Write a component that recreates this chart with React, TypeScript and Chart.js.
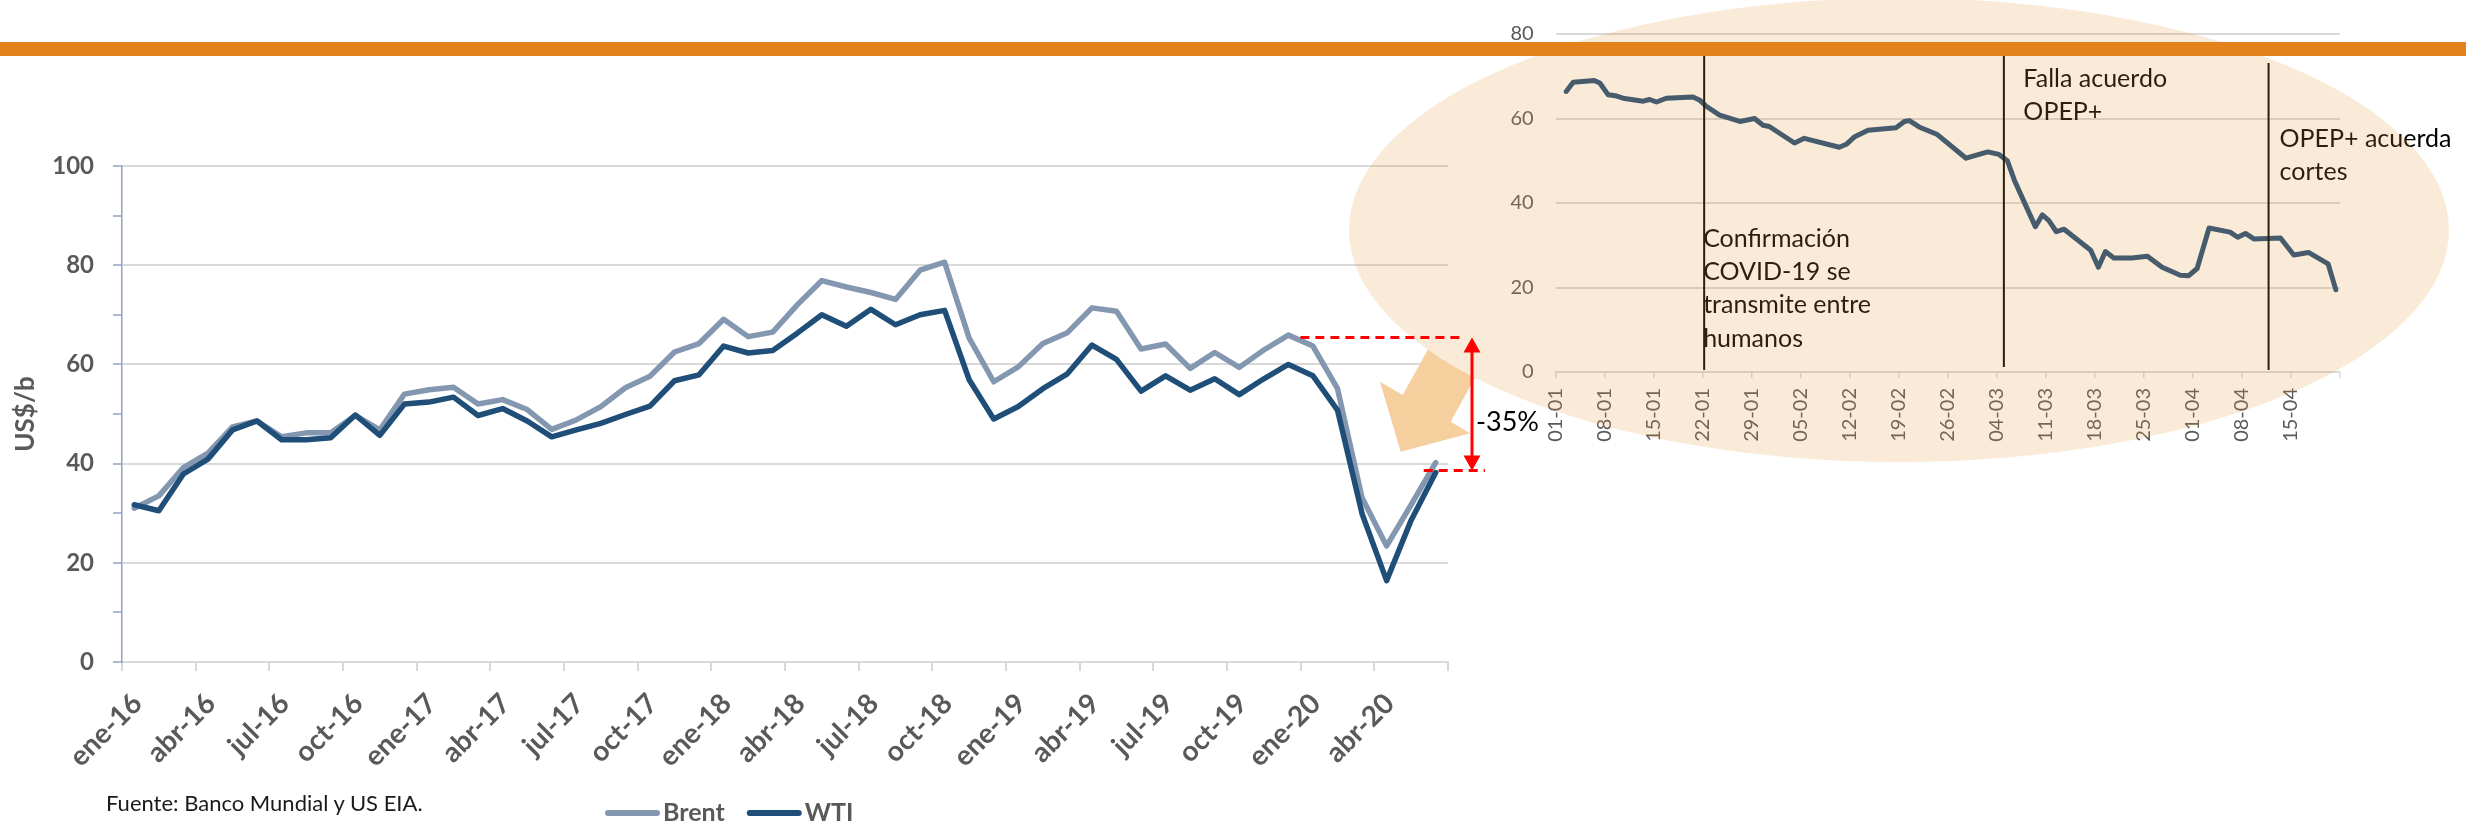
import React, { useEffect, useRef } from "react";
import { Chart, registerables } from "chart.js";

Chart.register(...registerables);
Chart.defaults.font.family = "Lato, 'Open Sans', sans-serif";

// ---------- main chart data (monthly, US$/b) ----------
const months = [
  "ene-16", "feb-16", "mar-16", "abr-16", "may-16", "jun-16", "jul-16", "ago-16", "sep-16", "oct-16", "nov-16", "dic-16",
  "ene-17", "feb-17", "mar-17", "abr-17", "may-17", "jun-17", "jul-17", "ago-17", "sep-17", "oct-17", "nov-17", "dic-17",
  "ene-18", "feb-18", "mar-18", "abr-18", "may-18", "jun-18", "jul-18", "ago-18", "sep-18", "oct-18", "nov-18", "dic-18",
  "ene-19", "feb-19", "mar-19", "abr-19", "may-19", "jun-19", "jul-19", "ago-19", "sep-19", "oct-19", "nov-19", "dic-19",
  "ene-20", "feb-20", "mar-20", "abr-20", "may-20", "jun-20",
];

const brent = [
  31.0, 33.5, 39.2, 42.1, 47.4, 48.6, 45.4, 46.2, 46.2, 49.7, 46.8, 54.0,
  54.9, 55.4, 52.0, 52.9, 50.9, 46.9, 48.8, 51.5, 55.3, 57.6, 62.5, 64.2,
  69.1, 65.6, 66.5, 72.0, 76.9, 75.6, 74.5, 73.1, 79.0, 80.6, 65.3, 56.5,
  59.5, 64.2, 66.4, 71.4, 70.7, 63.1, 64.1, 59.2, 62.4, 59.4, 62.9, 65.9,
  63.7, 55.1, 33.1, 23.4, 31.7, 40.2,
];

const wti = [
  31.7, 30.5, 37.9, 40.9, 46.8, 48.6, 44.8, 44.8, 45.2, 49.8, 45.7, 52.0,
  52.4, 53.4, 49.7, 51.1, 48.6, 45.4, 46.8, 48.1, 49.9, 51.6, 56.7, 57.9,
  63.7, 62.3, 62.8, 66.3, 70.0, 67.7, 71.1, 68.0, 70.0, 70.9, 56.9, 49.0,
  51.5, 55.1, 58.1, 63.9, 61.0, 54.6, 57.7, 54.8, 57.1, 53.9, 57.1, 60.0,
  57.7, 50.8, 29.9, 16.4, 28.6, 38.2,
];

const seriesNames = ["Brent", "WTI"];
const yAxisTitle = "US$/b";
const sourceText = "Fuente: Banco Mundial y US EIA.";

// drop annotation (peak and trough levels, US$/b)
const dropLevels = [65.4, 38.6];
const dropLabel = "-35%";

// ---------- inset chart data (daily 2020, day 0 = 01-01) ----------
const insetDays = [
  1.5, 2.5, 5.5, 6.3, 7.5, 8.5, 9.6, 12.5, 13.4, 14.4, 15.8, 19.6, 20.6, 21.5, 23.4, 26.3,
  28.4, 29.6, 30.5, 34.1, 35.5, 40.5, 41.5, 42.7, 44.6, 48.6, 49.8, 50.5, 51.9, 54.5, 58.6,
  61.7, 63.3, 64.5, 65.5, 67.1, 68.5, 69.5, 70.4, 71.5, 72.6, 76.4, 77.5, 78.5, 79.7, 82.3,
  84.5, 86.6, 89.2, 90.4, 91.6, 93.3, 96.3, 97.4, 98.5, 99.7, 103.5, 105.4, 107.5, 110.3, 111.4,
];
const insetPrices = [
  66.4, 68.6, 69.0, 68.4, 65.6, 65.4, 64.8, 64.1, 64.5, 63.9, 64.8, 65.1, 64.3, 62.9, 60.8, 59.3,
  60.0, 58.4, 58.1, 54.2, 55.3, 53.2, 53.9, 55.7, 57.2, 57.8, 59.3, 59.5, 58.0, 56.2, 50.6,
  52.1, 51.5, 50.0, 45.4, 39.5, 34.4, 37.2, 35.9, 33.2, 33.8, 28.8, 24.8, 28.5, 27.0, 27.0,
  27.4, 24.8, 22.9, 22.8, 24.5, 34.1, 33.1, 31.9, 32.8, 31.5, 31.7, 27.7, 28.3, 25.6, 19.5,
];
const insetTickLabels = [
  "01-01", "08-01", "15-01", "22-01", "29-01", "05-02", "12-02", "19-02", "26-02",
  "04-03", "11-03", "18-03", "25-03", "01-04", "08-04", "15-04",
];
const eventDays = [21.2, 64.0, 101.8];
const eventTexts = [
  ["Confirmación", "COVID-19 se", "transmite entre", "humanos"],
  ["Falla acuerdo", "OPEP+"],
  ["OPEP+ acuerda", "cortes"],
];

// ---------- layout constants (pixels) ----------
const W = 2466;
const H = 825;
const INSET_LEFT = 1440;
const INSET_W = 1026;
const INSET_H = 470;
const eventLineTop = [56, 56, 63];
const eventLineBottom = [370, 367, 370];
const eventTextDx = [-1, 19.5, 11];
const eventTextY = [246.7, 87, 146.7];
const eventLineGap = 33.3;

const GRAY_TEXT = "#595959";
const GRID = "#D9D9D9";

const insetPlugin = {
  id: "insetEvents",
  afterDatasetsDraw(chart: any) {
    const ctx = chart.ctx as CanvasRenderingContext2D;
    const xs = chart.scales.x;
    ctx.save();
    eventDays.forEach((d, i) => {
      const px = xs.getPixelForValue(d);
      ctx.strokeStyle = "#000000";
      ctx.lineWidth = 2;
      ctx.beginPath();
      ctx.moveTo(px, eventLineTop[i]);
      ctx.lineTo(px, eventLineBottom[i]);
      ctx.stroke();
      ctx.fillStyle = "#000000";
      ctx.font = "25px Lato, 'Open Sans', sans-serif";
      ctx.textAlign = "left";
      ctx.textBaseline = "alphabetic";
      eventTexts[i].forEach((t, j) => {
        ctx.fillText(t, px + eventTextDx[i], eventTextY[i] + j * eventLineGap);
      });
    });
    ctx.restore();
  },
};

const overlayPlugin = {
  id: "overlay",
  afterDraw(chart: any) {
    const ctx = chart.ctx as CanvasRenderingContext2D;
    const { right } = chart.chartArea;
    const xs = chart.scales.x;
    const ys = chart.scales.y;
    ctx.save();

    // legend
    let lx = 605;
    const ly = 813;
    ctx.font = "bold 25px Lato, 'Open Sans', sans-serif";
    ctx.textBaseline = "middle";
    ctx.textAlign = "left";
    chart.data.datasets.forEach((ds: any) => {
      ctx.strokeStyle = ds.borderColor;
      ctx.lineWidth = 6;
      ctx.lineCap = "round";
      ctx.beginPath();
      ctx.moveTo(lx + 3, ly);
      ctx.lineTo(lx + 52, ly);
      ctx.stroke();
      ctx.fillStyle = GRAY_TEXT;
      ctx.fillText(ds.label, lx + 58, ly);
      lx += 58 + ctx.measureText(ds.label).width + 22;
    });

    // translucent ellipse
    const cx = 1899, cy = 230, rx = 550, ry = 232;
    ctx.fillStyle = "rgba(232,150,60,0.2)";
    ctx.beginPath();
    ctx.ellipse(cx, cy, rx, ry, 0, 0, Math.PI * 2);
    ctx.fill();

    // block arrow, outside the ellipse only
    ctx.save();
    ctx.beginPath();
    ctx.rect(0, 0, chart.width, chart.height);
    ctx.ellipse(cx, cy, rx, ry, 0, 0, Math.PI * 2);
    ctx.clip("evenodd");
    ctx.fillStyle = "#F6CF9E";
    ctx.beginPath();
    ctx.moveTo(1460.7, 289.9);
    ctx.lineTo(1402.7, 395);
    ctx.lineTo(1380, 381.7);
    ctx.lineTo(1400.7, 451.7);
    ctx.lineTo(1470, 433.3);
    ctx.lineTo(1450.7, 421.7);
    ctx.lineTo(1508.7, 316.6);
    ctx.closePath();
    ctx.fill();
    ctx.restore();

    // red drop annotation
    const yTop = ys.getPixelForValue(dropLevels[0]);
    const yBot = ys.getPixelForValue(dropLevels[1]);
    const xa = right + 24;
    ctx.strokeStyle = "#FF0000";
    ctx.lineWidth = 3;
    ctx.lineCap = "butt";
    ctx.setLineDash([9, 6]);
    ctx.beginPath();
    ctx.moveTo(xs.getPixelForValue(47) + 12, yTop);
    ctx.lineTo(right + 15, yTop);
    ctx.moveTo(xs.getPixelForValue(53) - 12, yBot);
    ctx.lineTo(right + 37, yBot);
    ctx.stroke();
    ctx.setLineDash([]);
    ctx.beginPath();
    ctx.moveTo(xa, yTop + 12);
    ctx.lineTo(xa, yBot - 12);
    ctx.stroke();
    ctx.fillStyle = "#FF0000";
    ctx.beginPath();
    ctx.moveTo(xa, yTop);
    ctx.lineTo(xa - 8.5, yTop + 15);
    ctx.lineTo(xa + 8.5, yTop + 15);
    ctx.closePath();
    ctx.fill();
    ctx.beginPath();
    ctx.moveTo(xa, yBot);
    ctx.lineTo(xa - 8.5, yBot - 15);
    ctx.lineTo(xa + 8.5, yBot - 15);
    ctx.closePath();
    ctx.fill();
    ctx.fillStyle = "#000000";
    ctx.font = "27px Lato, 'Open Sans', sans-serif";
    ctx.textBaseline = "alphabetic";
    ctx.fillText(dropLabel, xa + 4, (yTop + yBot) / 2 + 27);

    // orange band
    ctx.fillStyle = "#E3821A";
    ctx.fillRect(0, 42, chart.width, 14);
    ctx.restore();
  },
};

export default function App() {
  const mainRef = useRef<HTMLCanvasElement | null>(null);
  const insetRef = useRef<HTMLCanvasElement | null>(null);

  useEffect(() => {
    if (!mainRef.current || !insetRef.current) return;

    const inset = new Chart(insetRef.current, {
      type: "line",
      data: {
        datasets: [
          {
            label: "Precio diario",
            data: insetDays.map((d, i) => ({ x: d, y: insetPrices[i] })),
            borderColor: "#1F4E79",
            borderWidth: 5,
            pointRadius: 0,
            borderJoinStyle: "round",
            borderCapStyle: "round",
          },
        ],
      },
      options: {
        animation: false,
        responsive: false,
        events: [],
        layout: { padding: { left: 0, top: 21.7, right: INSET_W - 900, bottom: 0 } },
        plugins: { legend: { display: false }, tooltip: { enabled: false } },
        scales: {
          x: {
            type: "linear",
            min: 0,
            max: 112,
            ticks: {
              stepSize: 7,
              autoSkip: false,
              minRotation: 90,
              maxRotation: 90,
              padding: 10,
              font: { size: 20 },
              color: GRAY_TEXT,
              callback: (_v: any, i: number) => insetTickLabels[i] ?? "",
            },
            grid: { drawOnChartArea: false, tickLength: 6, color: GRID, lineWidth: 1.5 },
            border: { color: GRID, width: 2 },
            afterFit: (s: any) => {
              s.height = 98;
            },
          },
          y: {
            min: 0,
            max: 80,
            ticks: { stepSize: 20, padding: 22, font: { size: 20 }, color: GRAY_TEXT },
            grid: { color: GRID, lineWidth: 2, drawTicks: false },
            border: { display: false },
            afterFit: (s: any) => {
              s.width = 115.7;
            },
          },
        },
      },
      plugins: [insetPlugin],
    } as any);

    const main = new Chart(mainRef.current, {
      type: "line",
      data: {
        labels: months,
        datasets: [
          {
            label: seriesNames[0],
            data: brent,
            borderColor: "#8497B0",
            borderWidth: 5.5,
            pointRadius: 0,
            borderJoinStyle: "round",
            borderCapStyle: "round",
            order: 1,
          },
          {
            label: seriesNames[1],
            data: wti,
            borderColor: "#1F4E79",
            borderWidth: 5.5,
            pointRadius: 0,
            borderJoinStyle: "round",
            borderCapStyle: "round",
            order: 0,
          },
        ],
      },
      options: {
        animation: false,
        responsive: false,
        events: [],
        layout: { padding: { left: 0, top: 166, right: W - 1448, bottom: 0 } },
        plugins: { legend: { display: false }, tooltip: { enabled: false } },
        scales: {
          x: {
            offset: true,
            grid: {
              offset: true,
              drawOnChartArea: false,
              drawTicks: true,
              tickLength: 9,
              lineWidth: 2,
              color: (c: any) =>
                c.index === undefined || c.index % 3 === 0 ? GRID : "rgba(0,0,0,0)",
            },
            border: { color: GRID, width: 2 },
            ticks: {
              autoSkip: false,
              minRotation: 45,
              maxRotation: 45,
              padding: 16,
              labelOffset: 3,
              font: { size: 28, weight: "bold" },
              color: GRAY_TEXT,
              callback: (_v: any, i: number) => (i % 3 === 0 ? months[i] : ""),
            },
            afterFit: (s: any) => {
              s.height = H - 662;
            },
          },
          y: {
            min: 0,
            max: 100,
            ticks: {
              stepSize: 10,
              padding: 19,
              font: { size: 24, weight: "bold" },
              color: GRAY_TEXT,
              callback: (v: any) => (v % 20 === 0 ? v : ""),
            },
            grid: {
              lineWidth: 2,
              tickLength: 9,
              tickWidth: 1.5,
              tickColor: "#8EA3C0",
              color: (c: any) =>
                c.tick && c.tick.value % 20 === 0 ? GRID : "rgba(0,0,0,0)",
            },
            border: { color: "#8EA3C0", width: 1.5 },
            title: {
              display: true,
              text: yAxisTitle,
              font: { size: 26, weight: "bold" },
              color: GRAY_TEXT,
              padding: { top: 10, bottom: 0 },
            },
            afterFit: (s: any) => {
              s.width = 122;
            },
          },
        },
      },
      plugins: [overlayPlugin],
    } as any);

    return () => {
      main.destroy();
      inset.destroy();
    };
  }, []);

  return (
    <div
      style={{
        position: "fixed",
        left: 0,
        top: 0,
        width: W,
        height: H,
        background: "#ffffff",
        overflow: "hidden",
      }}
    >
      <canvas
        ref={insetRef}
        width={INSET_W}
        height={INSET_H}
        style={{ position: "absolute", left: INSET_LEFT, top: 0, width: INSET_W, height: INSET_H, zIndex: 1 }}
      />
      <canvas
        ref={mainRef}
        width={W}
        height={H}
        style={{ position: "absolute", left: 0, top: 0, width: W, height: H, zIndex: 2 }}
      />
      <div
        style={{
          position: "absolute",
          left: 106,
          top: 790,
          zIndex: 3,
          font: "22px Lato, 'Open Sans', sans-serif",
          lineHeight: "26px",
          color: "#1a1a1a",
          whiteSpace: "nowrap",
        }}
      >
        {sourceText}
      </div>
    </div>
  );
}
